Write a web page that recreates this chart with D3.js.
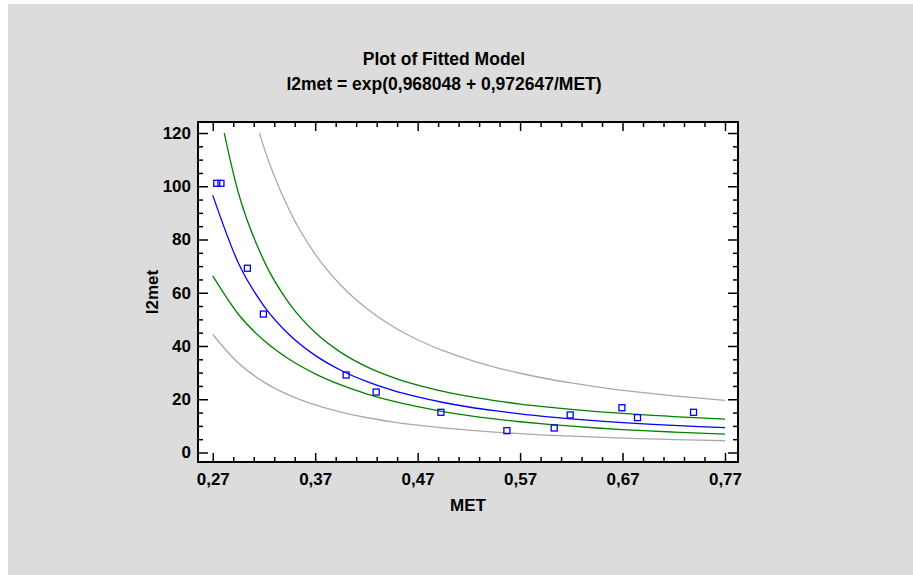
<!DOCTYPE html>
<html>
<head>
<meta charset="utf-8">
<script src="https://cdn.jsdelivr.net/npm/d3@7"></script>
<style>
  html, body { margin: 0; padding: 0; background: #fff; }
  svg { display: block; }
  text { font-family: "Liberation Sans", Arial, Helvetica, sans-serif; font-weight: bold; fill: #000; }
</style>
</head>
<body>
<svg id="chart" width="913" height="575"></svg>
<script>
// observed points (MET, l2met)
const metX = [0.2739, 0.278, 0.3038, 0.3194, 0.4002, 0.4295, 0.4927, 0.5571, 0.6033, 0.6189, 0.6694, 0.6846, 0.7393];
const l2met = [101.1, 101.1, 69.2, 52.0, 29.1, 22.7, 15.1, 8.2, 9.2, 14.1, 16.8, 13.1, 15.1];

// curves at these MET values
const gridX = [0.27, 0.295, 0.32, 0.345, 0.37, 0.395, 0.42, 0.445, 0.47, 0.495, 0.52, 0.545, 0.57, 0.595, 0.62, 0.645, 0.67, 0.695, 0.72, 0.745, 0.77];
const fitY = [96.59, 71.18, 55.01, 44.14, 36.48, 30.89, 26.68, 23.42, 20.85, 18.78, 17.09, 15.69, 14.50, 13.50, 12.64, 11.89, 11.24, 10.67, 10.17, 9.71, 9.31];
const confUpper = [140.7, 97.56, 71.97, 55.80, 45.04, 37.60, 32.26, 28.31, 25.30, 22.94, 21.05, 19.50, 18.20, 17.12, 16.18, 15.37, 14.66, 14.04, 13.50, 13.00, 12.56];
const confLower = [66.32, 51.93, 42.05, 34.92, 29.55, 25.38, 22.06, 19.38, 17.19, 15.38, 13.88, 12.62, 11.55, 10.65, 9.87, 9.20, 8.62, 8.11, 7.66, 7.26, 6.90];
const predUpper = [210.5, 150.9, 114.5, 90.79, 74.49, 62.82, 54.16, 47.53, 42.36, 38.23, 34.87, 32.10, 29.76, 27.79, 26.11, 24.64, 23.37, 22.26, 21.28, 20.39, 19.61];
const predLower = [44.33, 33.58, 26.43, 21.46, 17.87, 15.19, 13.14, 11.54, 10.26, 9.23, 8.38, 7.67, 7.07, 6.56, 6.12, 5.74, 5.41, 5.11, 4.86, 4.63, 4.42];

const xTicks = [0.27, 0.37, 0.47, 0.57, 0.67, 0.77];
const yTicks = [0, 20, 40, 60, 80, 100, 120];

const titleText = "Plot of Fitted Model";
const subtitleText = "l2met = exp(0,968048 + 0,972647/MET)";

const svg = d3.select("#chart");

// gray panel
svg.append("rect")
    .attr("x", 8).attr("y", 4)
    .attr("width", 905).attr("height", 571)
    .attr("fill", "#dcdcdc");

const pLeft = 198, pRight = 738, pTop = 122, pBottom = 462;

const x = d3.scaleLinear().domain([0.2556, 0.7827]).range([pLeft, pRight]);
const y = d3.scaleLinear().domain([-3.57, 124.13]).range([pBottom, pTop]);

// plot area
svg.append("rect")
    .attr("x", pLeft).attr("y", pTop)
    .attr("width", pRight - pLeft).attr("height", pBottom - pTop)
    .attr("fill", "#fff");

const fmt = d => d3.format(".2f")(d).replace(".", ",");

const xMinor = d3.range(0.27, 0.7701, 0.02).filter(v => !xTicks.some(t => Math.abs(t - v) < 1e-6));
const yMinor = d3.range(0, 121, 5).filter(v => v % 20 !== 0);

function drawAxis(axis, tx, ty) {
    const g = svg.append("g")
        .attr("transform", `translate(${tx},${ty})`)
        .call(axis);
    g.select(".domain").remove();
    g.selectAll(".tick line").attr("stroke", "#000").attr("stroke-width", 1.5);
    g.selectAll("text").style("font-size", "17px").attr("fill", "#000");
    return g;
}

// bottom
drawAxis(d3.axisBottom(x).tickValues(xTicks).tickFormat(fmt).tickSize(-9).tickSizeOuter(0).tickPadding(11), 0, pBottom);
drawAxis(d3.axisBottom(x).tickValues(xMinor).tickFormat("").tickSize(-5).tickSizeOuter(0), 0, pBottom);
// top
drawAxis(d3.axisTop(x).tickValues(xTicks).tickFormat("").tickSize(-9).tickSizeOuter(0), 0, pTop);
drawAxis(d3.axisTop(x).tickValues(xMinor).tickFormat("").tickSize(-5).tickSizeOuter(0), 0, pTop);
// left
drawAxis(d3.axisLeft(y).tickValues(yTicks).tickFormat(d3.format("d")).tickSize(-10).tickSizeOuter(0).tickPadding(7), pLeft, 0);
drawAxis(d3.axisLeft(y).tickValues(yMinor).tickFormat("").tickSize(-5).tickSizeOuter(0), pLeft, 0);
// right
drawAxis(d3.axisRight(y).tickValues(yTicks).tickFormat("").tickSize(-10).tickSizeOuter(0), pRight, 0);
drawAxis(d3.axisRight(y).tickValues(yMinor).tickFormat("").tickSize(-5).tickSizeOuter(0), pRight, 0);

// clip curves at y = 120
svg.append("clipPath").attr("id", "clip")
  .append("rect")
    .attr("x", pLeft).attr("y", y(120))
    .attr("width", pRight - pLeft).attr("height", pBottom - y(120));

const line = d3.line()
    .x(d => x(d[0]))
    .y(d => y(d[1]))
    .curve(d3.curveMonotoneX);

const curves = [
    { values: predUpper, color: "#a9a9a9" },
    { values: predLower, color: "#a9a9a9" },
    { values: confUpper, color: "#008000" },
    { values: confLower, color: "#008000" },
    { values: fitY, color: "#0000ff" }
];

const curveG = svg.append("g").attr("clip-path", "url(#clip)");
curves.forEach(c => {
    curveG.append("path")
        .datum(gridX.map((v, i) => [v, c.values[i]]))
        .attr("fill", "none")
        .attr("stroke", c.color)
        .attr("stroke-width", 1.3)
        .attr("d", line);
});

// points
const sq = 6;
svg.append("g")
    .selectAll("rect")
    .data(metX.map((v, i) => [v, l2met[i]]))
    .enter().append("rect")
    .attr("x", d => x(d[0]) - sq / 2)
    .attr("y", d => y(d[1]) - sq / 2)
    .attr("width", sq).attr("height", sq)
    .attr("fill", "none")
    .attr("stroke", "#0000ff")
    .attr("stroke-width", 1.3);

// frame
svg.append("rect")
    .attr("x", pLeft).attr("y", pTop)
    .attr("width", pRight - pLeft).attr("height", pBottom - pTop)
    .attr("fill", "none")
    .attr("stroke", "#000")
    .attr("stroke-width", 2);

// titles
svg.append("text")
    .attr("x", 444).attr("y", 65)
    .attr("text-anchor", "middle")
    .style("font-size", "17.5px")
    .text(titleText);
svg.append("text")
    .attr("x", 444).attr("y", 90)
    .attr("text-anchor", "middle")
    .style("font-size", "17.5px")
    .text(subtitleText);

svg.append("text")
    .attr("x", (pLeft + pRight) / 2).attr("y", 511)
    .attr("text-anchor", "middle")
    .style("font-size", "17px")
    .text("MET");

svg.append("text")
    .attr("transform", `translate(158,${(pTop + pBottom) / 2}) rotate(-90)`)
    .attr("text-anchor", "middle")
    .style("font-size", "17px")
    .text("l2met");
</script>
</body>
</html>
